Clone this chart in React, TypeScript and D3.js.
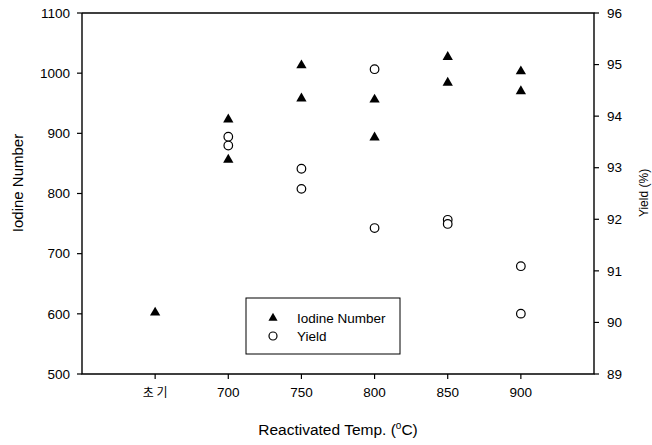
import React from 'react';
import * as d3 from 'd3';

// categories on the x axis (초기 = initial, then reactivation temps)
const categories = ['초 기', '700', '750', '800', '850', '900'];

// iodine number, two runs per temperature (initial has one)
const iodineRun1 = [602, 923, 1013, 956, 1027, 1003];
const iodineRun2 = [null, 856, 958, 893, 984, 970];

// yield (%), two runs per temperature
const yieldRun1 = [null, 93.6, 92.98, 94.91, 91.99, 91.09];
const yieldRun2 = [null, 93.43, 92.59, 91.83, 91.91, 90.17];

const leftTicks = [500, 600, 700, 800, 900, 1000, 1100];
const rightTicks = [89, 90, 91, 92, 93, 94, 95, 96];

const W = 652;
const H = 445;
const margin = { top: 13, right: 58, bottom: 71, left: 82 };
const font = '"Liberation Sans", Arial, sans-serif';

export default function App() {
  const x = d3.scaleLinear()
    .domain([-1, categories.length])
    .range([margin.left, W - margin.right]);
  const yL = d3.scaleLinear().domain([500, 1100]).range([H - margin.bottom, margin.top]);
  const yR = d3.scaleLinear().domain([89, 96]).range([H - margin.bottom, margin.top]);

  const tri = d3.symbol().type(d3.symbolTriangle).size(46)() as string;

  const iodinePts: { i: number; v: number }[] = [];
  [iodineRun1, iodineRun2].forEach(run =>
    run.forEach((v, i) => { if (v != null) iodinePts.push({ i, v }); }));
  const yieldPts: { i: number; v: number }[] = [];
  [yieldRun1, yieldRun2].forEach(run =>
    run.forEach((v, i) => { if (v != null) yieldPts.push({ i, v }); }));

  const x0 = margin.left;
  const x1 = W - margin.right;
  const yTop = margin.top;
  const yBot = H - margin.bottom;

  return (
    <svg width={W} height={H} style={{ position: 'absolute', left: 0, top: 0, background: '#fff' }}
      fontFamily={font}>
      {/* frame: left, bottom, right, top */}
      <path d={`M${x0},${yTop}V${yBot}H${x1}V${yTop}H${x0}`} fill="none" stroke="#000" strokeWidth={1.4} />

      {/* left axis */}
      {leftTicks.map(t => (
        <g key={'l' + t}>
          <line x1={x0 - 5} x2={x0} y1={yL(t)} y2={yL(t)} stroke="#000" strokeWidth={1.2} />
          <text x={x0 - 12} y={yL(t)} dy="0.35em" textAnchor="end" fontSize={13.5}>{t}</text>
        </g>
      ))}

      {/* right axis */}
      {rightTicks.map(t => (
        <g key={'r' + t}>
          <line x1={x1} x2={x1 + 5} y1={yR(t)} y2={yR(t)} stroke="#000" strokeWidth={1.2} />
          <text x={x1 + 13} y={yR(t)} dy="0.35em" textAnchor="start" fontSize={13.5}>{t}</text>
        </g>
      ))}

      {/* bottom axis */}
      {categories.map((c, i) => (
        <g key={'b' + i}>
          <line x1={x(i)} x2={x(i)} y1={yBot} y2={yBot + 5} stroke="#000" strokeWidth={1.2} />
          <text x={x(i)} y={yBot + 23} textAnchor="middle" fontSize={i === 0 ? 12 : 13.5}
            fontFamily={i === 0 ? '"Noto Sans CJK KR", sans-serif' : font}>{c}</text>
        </g>
      ))}

      {/* axis titles */}
      <text transform={`translate(23,183) rotate(-90)`} textAnchor="middle" fontSize={15}>
        Iodine Number
      </text>
      <text transform={`translate(648,193) rotate(-90)`} textAnchor="middle" fontSize={12}>
        Yield (%)
      </text>
      <text x={(x0 + x1) / 2} y={435} textAnchor="middle" fontSize={15.5}>
        Reactivated Temp. (<tspan dy={-6} fontSize={10}>o</tspan><tspan dy={6}>C)</tspan>
      </text>

      {/* iodine number triangles */}
      {iodinePts.map((d, k) => (
        <path key={'t' + k} d={tri} transform={`translate(${x(d.i)},${yL(d.v)})`} fill="#000" />
      ))}

      {/* yield circles */}
      {yieldPts.map((d, k) => (
        <circle key={'c' + k} cx={x(d.i)} cy={yR(d.v)} r={4.3} fill="#fff" stroke="#000" strokeWidth={1.2} />
      ))}

      {/* legend */}
      <rect x={246} y={298} width={154} height={56} fill="#fff" stroke="#000" strokeWidth={1} />
      <path d={d3.symbol().type(d3.symbolTriangle).size(36)() as string} transform="translate(273,318)" fill="#000" />
      <text x={297} y={318} dy="0.35em" fontSize={13.5}>Iodine Number</text>
      <circle cx={273} cy={336} r={4} fill="#fff" stroke="#000" strokeWidth={1.2} />
      <text x={297} y={336} dy="0.35em" fontSize={13.5}>Yield</text>
    </svg>
  );
}
